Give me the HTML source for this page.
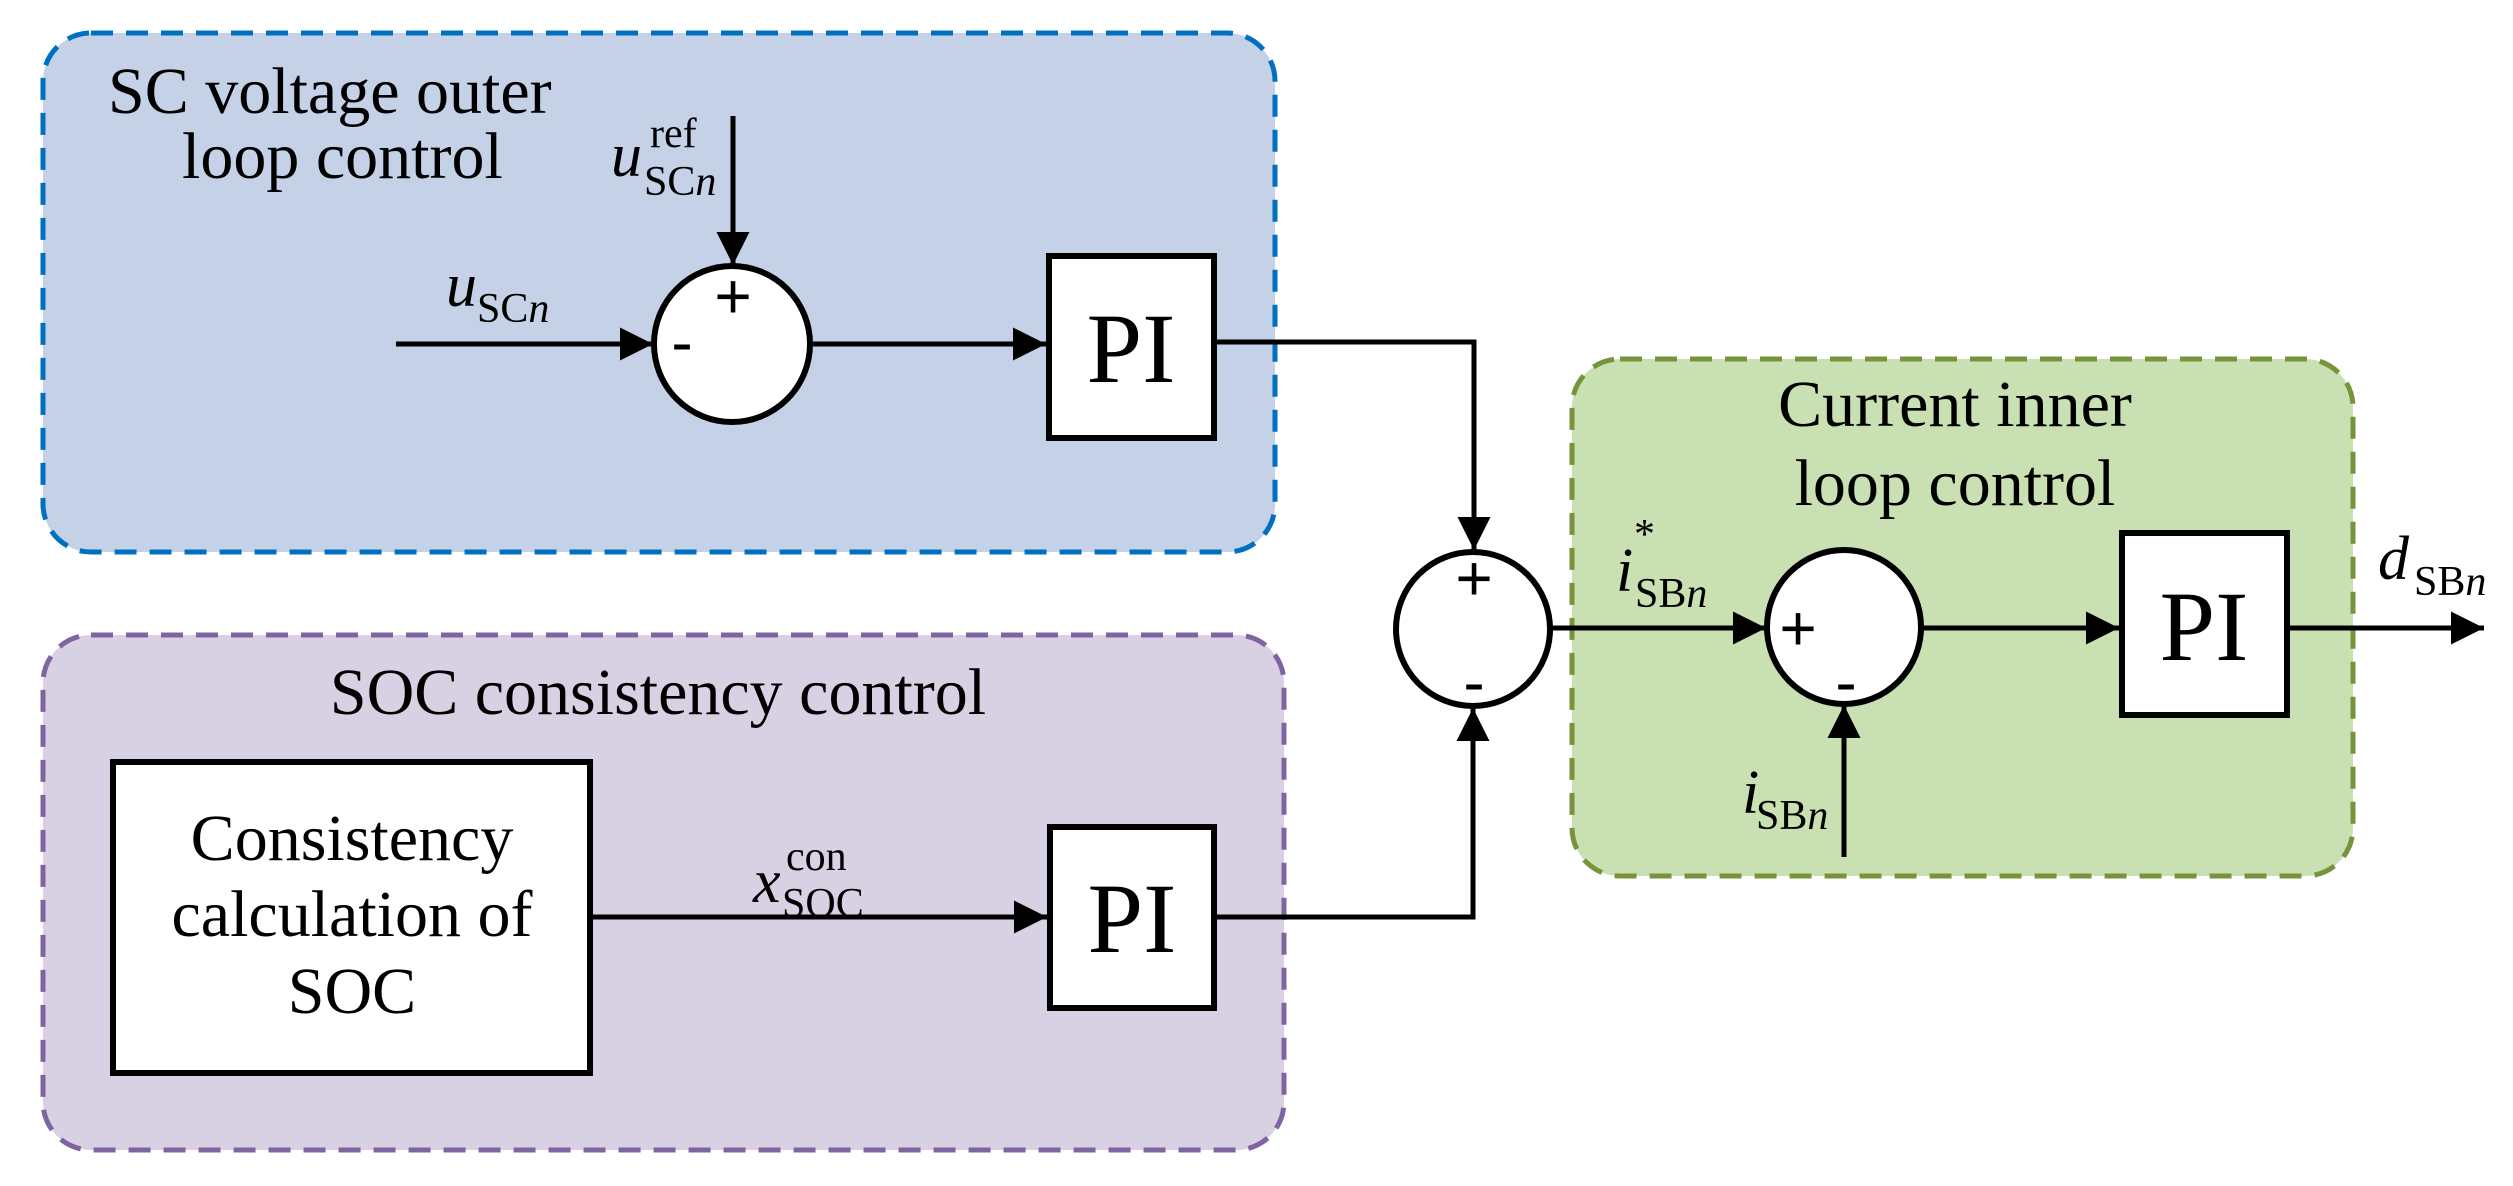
<!DOCTYPE html>
<html><head><meta charset="utf-8"><style>
html,body{margin:0;padding:0;background:#fff;}
svg{display:block;}
text{font-family:"Liberation Serif",serif;fill:#000;}
.t{font-size:66px;}
.v{font-size:62px;font-style:italic;}
.s{font-size:42px;}
.si{font-size:42px;font-style:italic;}
.sg{font-size:64px;font-family:"Liberation Sans",sans-serif;}
.pi{font-size:100px;}
</style></head><body>
<svg width="2513" height="1186" viewBox="0 0 2513 1186" xmlns="http://www.w3.org/2000/svg">
<defs>
<marker id="a" viewBox="0 0 10 10" refX="10" refY="5" markerWidth="6.6" markerHeight="7" markerUnits="strokeWidth" orient="auto">
<path d="M0,0 L10,5 L0,10 z" fill="#000"/></marker>
</defs>
<rect x="43" y="33" width="1232" height="519" rx="48" fill="#c5d1e6" stroke="#0070c0" stroke-width="5" stroke-dasharray="22,13"/>
<rect x="43" y="635" width="1241" height="515" rx="48" fill="#d8d0e3" stroke="#8064a2" stroke-width="5" stroke-dasharray="22,13"/>
<rect x="1572" y="359" width="781" height="517" rx="48" fill="#c9e0b3" stroke="#77933c" stroke-width="5" stroke-dasharray="22,13"/>

<text class="t" x="108" y="113">SC voltage outer</text>
<text class="t" x="182" y="178">loop control</text>
<text class="t" x="658" y="714" text-anchor="middle" font-size="72">SOC consistency control</text>
<text class="t" x="1955" y="426" text-anchor="middle">Current inner</text>
<text class="t" x="1955" y="505" text-anchor="middle">loop control</text>

<rect x="1049" y="256" width="165" height="182" fill="#fff" stroke="#000" stroke-width="6"/>
<text class="pi" x="1131" y="382" text-anchor="middle">PI</text>
<rect x="1050" y="827" width="164" height="181" fill="#fff" stroke="#000" stroke-width="6"/>
<text class="pi" x="1132" y="952" text-anchor="middle">PI</text>
<rect x="2122" y="533" width="165" height="182" fill="#fff" stroke="#000" stroke-width="6"/>
<text class="pi" x="2204" y="660" text-anchor="middle">PI</text>
<rect x="113" y="762" width="477" height="311" fill="#fff" stroke="#000" stroke-width="6"/>
<text class="t" x="352" y="860" text-anchor="middle" font-size="74">Consistency</text>
<text class="t" x="352" y="936" text-anchor="middle" font-size="74">calculation of</text>
<text class="t" x="352" y="1013" text-anchor="middle" font-size="74">SOC</text>

<circle cx="732" cy="344" r="78" fill="#fff" stroke="#000" stroke-width="6"/>
<circle cx="1473" cy="629" r="77" fill="#fff" stroke="#000" stroke-width="6"/>
<circle cx="1844" cy="627" r="77" fill="#fff" stroke="#000" stroke-width="6"/>
<text class="sg" x="733" y="318" text-anchor="middle">+</text>
<text class="sg" x="682" y="364" text-anchor="middle">-</text>
<text class="sg" x="1474" y="600" text-anchor="middle">+</text>
<text class="sg" x="1474" y="704" text-anchor="middle">-</text>
<text class="sg" x="1798" y="650" text-anchor="middle">+</text>
<text class="sg" x="1846" y="704" text-anchor="middle">-</text>

<g stroke="#000" stroke-width="5" fill="none">
<line x1="396" y1="344" x2="653" y2="344" marker-end="url(#a)"/>
<line x1="733" y1="116" x2="733" y2="265" marker-end="url(#a)"/>
<line x1="811" y1="344" x2="1046" y2="344" marker-end="url(#a)"/>
<polyline points="1217,342 1474,342 1474,550" marker-end="url(#a)"/>
<line x1="590" y1="917" x2="1047" y2="917" marker-end="url(#a)"/>
<polyline points="1217,917 1473,917 1473,708" marker-end="url(#a)"/>
<line x1="1550" y1="628" x2="1766" y2="628" marker-end="url(#a)"/>
<line x1="1844" y1="857" x2="1844" y2="705" marker-end="url(#a)"/>
<line x1="1921" y1="628" x2="2119" y2="628" marker-end="url(#a)"/>
<line x1="2290" y1="628" x2="2484" y2="628" marker-end="url(#a)"/>
</g>

<text x="446" y="306"><tspan class="v">u</tspan><tspan class="s" dy="16">SC</tspan><tspan class="si">n</tspan></text>
<text x="611" y="176"><tspan class="v">u</tspan></text>
<text class="s" x="650" y="147">ref</text>
<text x="644" y="195"><tspan class="s">SC</tspan><tspan class="si">n</tspan></text>
<text x="753" y="902"><tspan class="v">x</tspan></text>
<text class="s" x="786" y="870">con</text>
<text class="s" x="782" y="917">SOC</text>
<text x="1616" y="591"><tspan class="v">i</tspan></text>
<text class="s" x="1634" y="548">*</text>
<text x="1635" y="607"><tspan class="s">SB</tspan><tspan class="si">n</tspan></text>
<text x="2378" y="579"><tspan class="v">d</tspan></text>
<text x="2414" y="595"><tspan class="s">SB</tspan><tspan class="si">n</tspan></text>
<text x="1742" y="813"><tspan class="v">i</tspan></text>
<text x="1756" y="829"><tspan class="s">SB</tspan><tspan class="si">n</tspan></text>
</svg>
</body></html>
